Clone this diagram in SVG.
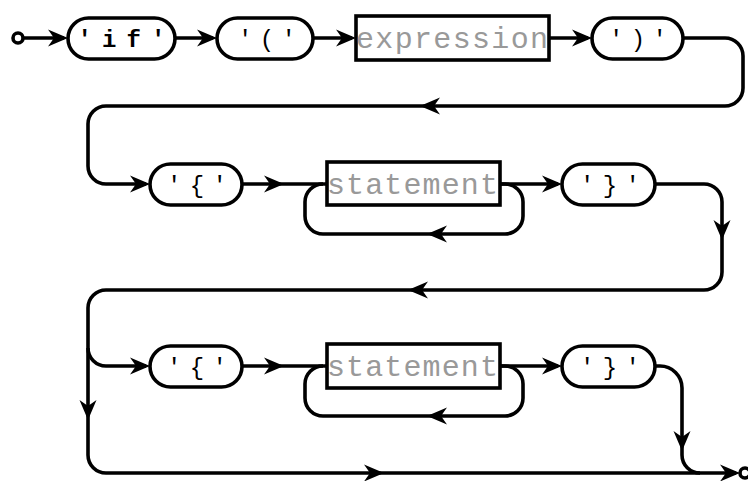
<svg xmlns="http://www.w3.org/2000/svg" xmlns:xlink="http://www.w3.org/1999/xlink" width="748" height="481" viewBox="0 0 748 481">
  <style>
    .line { fill: none; stroke: #000; stroke-width: 3.6; }
    .term rect, .nonterm rect { fill: #fff; stroke: #000; stroke-width: 3.6; }
    .term text { font-family: "Liberation Mono", "DejaVu Sans Mono", monospace; font-size: 24px; fill: #000; text-anchor: middle; }
    .term text.kw { font-weight: bold; }
    .nonterm text { font-family: "Liberation Mono", "DejaVu Sans Mono", monospace; font-size: 30px; fill: #999; }
    .end { fill: #fff; stroke: #000; stroke-width: 3.6; }
  </style>
  <defs>
    <path id="ah" d="M0,0 L-20,-8.5 L-14,0 L-20,8.5 Z" fill="#000"/>
  </defs>
  <rect width="748" height="481" fill="#fff"/>

  <!-- connectors -->
  <g id="connectors">
    <circle class="end" cx="18" cy="38" r="5"/>
    <path class="line" d="M23,38 H64"/>
    <path class="line" d="M175,38 H213"/>
    <path class="line" d="M313,38 H352"/>
    <path class="line" d="M549,38 H588"/>
    <!-- ')' wraps to the second row -->
    <path class="line" d="M683,38 H725 A18,18 0 0 1 743,56 V88 A18,18 0 0 1 725,106 H106 A18,18 0 0 0 88,124 V166 A18,18 0 0 0 106,184 H146"/>
    <!-- second row -->
    <path class="line" d="M242,184 H327"/>
    <path class="line" d="M500,184 H558"/>
    <path class="line" d="M500,184 H505 A18,18 0 0 1 523,202 V216 A18,18 0 0 1 505,234 H323 A18,18 0 0 1 305,216 V202 A18,18 0 0 1 323,184"/>
    <path class="line" d="M655,184 H704 A18,18 0 0 1 722,202 V272 A18,18 0 0 1 704,290 H106 A18,18 0 0 0 88,308 V455 A18,18 0 0 0 106,473 H736"/>
    <!-- optional third row -->
    <path class="line" d="M88,348 A18,18 0 0 0 106,366 H146"/>
    <path class="line" d="M242,366 H327"/>
    <path class="line" d="M500,366 H558"/>
    <path class="line" d="M500,366 H505 A18,18 0 0 1 523,384 V398 A18,18 0 0 1 505,416 H323 A18,18 0 0 1 305,398 V384 A18,18 0 0 1 323,366"/>
    <path class="line" d="M655,366 H660 A22,22 0 0 1 682,388 V455 A18,18 0 0 0 700,473"/>
    <circle class="end" cx="745" cy="473" r="5"/>

    <!-- arrowheads -->
    <use xlink:href="#ah" transform="translate(68,38)"/>
    <use xlink:href="#ah" transform="translate(217,38)"/>
    <use xlink:href="#ah" transform="translate(356,38)"/>
    <use xlink:href="#ah" transform="translate(592,38)"/>
    <use xlink:href="#ah" transform="translate(420,106) rotate(180)"/>
    <use xlink:href="#ah" transform="translate(150,184)"/>
    <use xlink:href="#ah" transform="translate(284,184)"/>
    <use xlink:href="#ah" transform="translate(562,184)"/>
    <use xlink:href="#ah" transform="translate(427,234) rotate(180)"/>
    <use xlink:href="#ah" transform="translate(722,240) rotate(90)"/>
    <use xlink:href="#ah" transform="translate(408,290) rotate(180)"/>
    <use xlink:href="#ah" transform="translate(150,366)"/>
    <use xlink:href="#ah" transform="translate(284,366)"/>
    <use xlink:href="#ah" transform="translate(562,366)"/>
    <use xlink:href="#ah" transform="translate(427,416) rotate(180)"/>
    <use xlink:href="#ah" transform="translate(88,420) rotate(90)"/>
    <use xlink:href="#ah" transform="translate(682,451) rotate(90)"/>
    <use xlink:href="#ah" transform="translate(384,473)"/>
    <use xlink:href="#ah" transform="translate(740,473)"/>
  </g>

  <!-- nodes -->
  <g id="t-if" class="term">
    <rect x="68" y="18" width="107" height="41" rx="20.5"/>
    <text class="kw" x="121.5" y="46.5" textLength="88" lengthAdjust="spacing">'if'</text>
  </g>
  <g id="t-lparen" class="term">
    <rect x="217" y="18" width="96" height="41" rx="20.5"/>
    <text x="267" y="46.5" textLength="58" lengthAdjust="spacing">'('</text>
  </g>
  <g id="n-expression" class="nonterm">
    <rect x="356" y="16" width="193" height="44"/>
    <text x="356" y="48" textLength="192" lengthAdjust="spacing">expression</text>
  </g>
  <g id="t-rparen" class="term">
    <rect x="592" y="18" width="91" height="41" rx="20.5"/>
    <text x="638" y="46.5" textLength="58" lengthAdjust="spacing">')'</text>
  </g>

  <g id="t-lbrace-1" class="term">
    <rect x="150" y="164" width="92" height="41" rx="20.5"/>
    <text x="197" y="192.5" textLength="60" lengthAdjust="spacing">'{'</text>
  </g>
  <g id="n-statement-1" class="nonterm">
    <rect x="327" y="162" width="173" height="43"/>
    <text x="327" y="194" textLength="171" lengthAdjust="spacing">statement</text>
  </g>
  <g id="t-rbrace-1" class="term">
    <rect x="562" y="164" width="93" height="41" rx="20.5"/>
    <text x="610" y="192.5" textLength="60" lengthAdjust="spacing">'}'</text>
  </g>

  <g id="t-lbrace-2" class="term">
    <rect x="150" y="346" width="92" height="41" rx="20.5"/>
    <text x="197" y="374.5" textLength="60" lengthAdjust="spacing">'{'</text>
  </g>
  <g id="n-statement-2" class="nonterm">
    <rect x="327" y="344" width="173" height="44"/>
    <text x="327" y="376" textLength="171" lengthAdjust="spacing">statement</text>
  </g>
  <g id="t-rbrace-2" class="term">
    <rect x="562" y="346" width="93" height="41" rx="20.5"/>
    <text x="610" y="374.5" textLength="60" lengthAdjust="spacing">'}'</text>
  </g>
</svg>
